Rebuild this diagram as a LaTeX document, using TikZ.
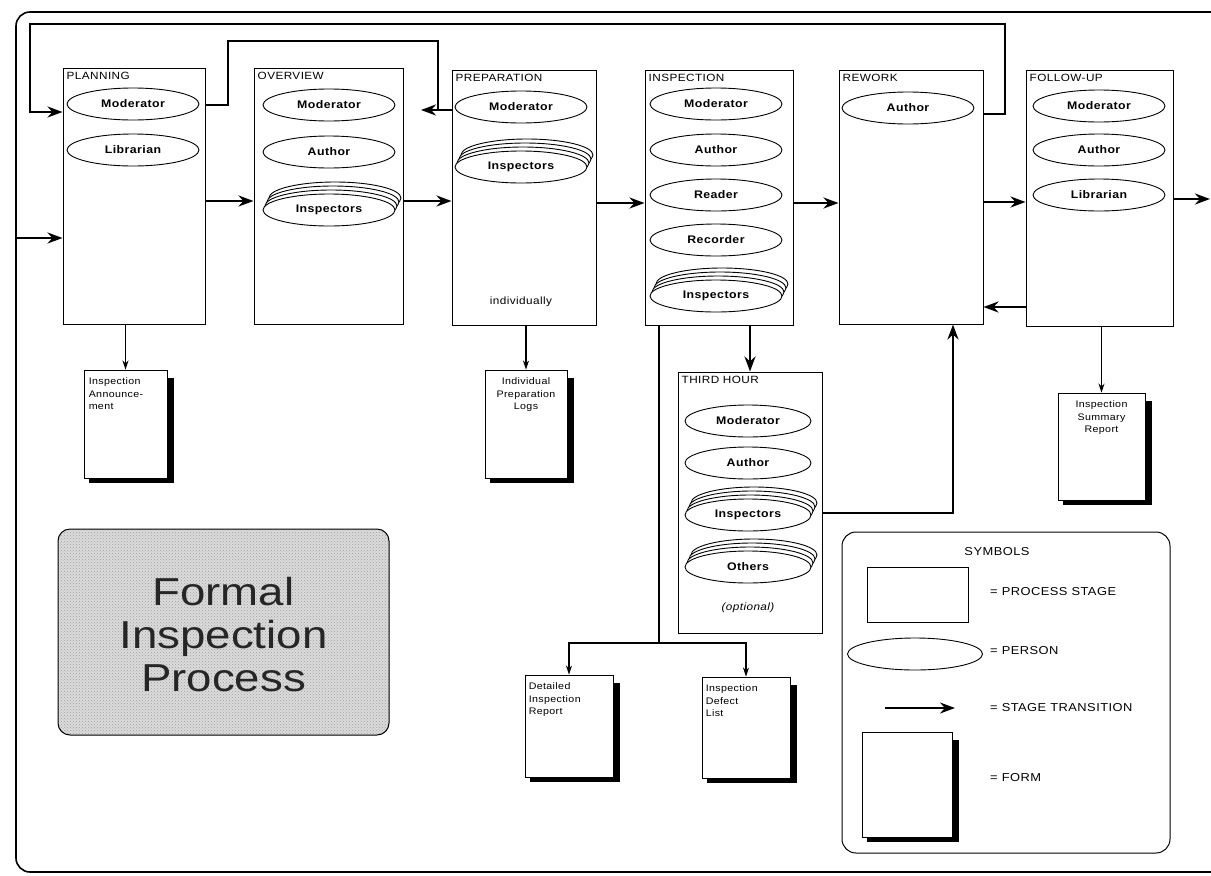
\documentclass[tikz,border=0pt]{standalone}
\usepackage{fontspec}
\setmainfont{Liberation Sans}
\newfontfamily\pfam[FakeStretch=1.12,LetterSpace=4]{Liberation Sans}
\newfontfamily\bigfam[FakeStretch=1.17]{Liberation Sans}
\usetikzlibrary{shapes.geometric,arrows.meta,fit,patterns}
\newcommand{\pf}{\pfam\bfseries\fontsize{11}{12}\selectfont}
\newcommand{\stf}{\pfam\fontsize{10.5}{12}\selectfont}
\newcommand{\ff}{\pfam\fontsize{9.5}{12.5}\selectfont}
\newcommand{\lf}{\pfam\fontsize{11.5}{13}\selectfont}
\newcommand{\bigf}{\bigfam\fontsize{39}{43}\selectfont}
\tikzset{
  stage/.style={draw, line width=1pt, inner sep=0pt},
  slabel/.style={anchor=north west, inner sep=1pt, font=\stf},
  person/.style={draw, ellipse, line width=0.9pt, minimum width=132pt, minimum height=32pt, inner sep=0pt, fill=white, font=\pf},
  trans/.style={line width=2.6pt, -{Stealth[length=15pt,width=11pt]}},
  loopline/.style={line width=2.6pt},
  thinline/.style={line width=1.3pt},
  darr/.style={line width=1.3pt, -{Stealth[length=9pt,width=6pt]}},
  formbox/.style={draw, line width=0.9pt, fill=white, inner sep=0pt},
  formtext/.style={inner sep=0pt, font=\ff, align=left},
  legtext/.style={anchor=west, inner sep=0pt, font=\lf},
}
% crowd of persons: [style] name x y text
\newcommand{\crowd}[5][]{%
  \node[person,#1] at (#3+6,#4-12) {};
  \node[person,#1] at (#3+4,#4-8) {};
  \node[person,#1] at (#3+2,#4-4) {};
  \node[person,#1] (#2) at (#3,#4) {#5};}
% form: name x0 y0 x1 y1
\newcommand{\formsheet}[5]{%
  \fill (#2+5,#3+8) rectangle (#4+7,#5+5);
  \node[formbox, fit={(#2,#3)(#4,#5)}] (#1) {};}
\begin{document}
\begin{tikzpicture}[x=1pt,y=-1pt]
\useasboundingbox (0,0) rectangle (1211,876);
\clip (0,0) rectangle (1211,876);

% outer frame
\draw[line width=1.6pt, rounded corners=14pt] (1240,12) -- (16,12) -- (16,872) -- (1240,872);

% stage boxes
\node[stage, fit={(63,68)(205,324)}] (plan) {};
\node[stage, fit={(254,68)(403,324)}] (over) {};
\node[stage, fit={(452,70)(596,325)}] (prep) {};
\node[stage, fit={(645,70)(793,325)}] (insp) {};
\node[stage, fit={(839,70)(983,324)}] (rework) {};
\node[stage, fit={(1026,70)(1173,326)}] (follow) {};
\node[stage, fit={(678,372)(822,633)}] (third) {};

\node[slabel] at ([shift={(3,3)}]plan.north west) {PLANNING};
\node[slabel] at ([shift={(3,3)}]over.north west) {OVERVIEW};
\node[slabel] at ([shift={(3,3)}]prep.north west) {PREPARATION};
\node[slabel] at ([shift={(3,3)}]insp.north west) {INSPECTION};
\node[slabel] at ([shift={(3,3)}]rework.north west) {REWORK};
\node[slabel] at ([shift={(3,3)}]follow.north west) {FOLLOW-UP};
\node[slabel] at ([shift={(3,3)}]third.north west) {THIRD HOUR};

% persons
\node[person] (planmod) at (133,104) {Moderator};
\node[person] (planlib) at (133,150) {Librarian};

\node[person] (overmod) at (329,105) {Moderator};
\node[person] (overaut) at (329,152) {Author};
\crowd{overins}{329}{210}{Inspectors}

\node[person] (prepmod) at (521,107) {Moderator};
\crowd{prepins}{521}{167}{Inspectors}
\node[font=\stf] (indiv) at (521,302) {individually};

\node[person] (inspmod) at (716,104) {Moderator};
\node[person] (inspaut) at (716,150) {Author};
\node[person] (insprea) at (716,195) {Reader};
\node[person] (insprec) at (716,240) {Recorder};
\crowd{inspins}{716}{296}{Inspectors}

\node[person] (rewaut) at (908,108) {Author};

\node[person] (folmod) at (1099,106) {Moderator};
\node[person] (folaut) at (1099,150) {Author};
\node[person] (follib) at (1099,195) {Librarian};

\node[person, minimum width=126pt] (thmod) at (748,421) {Moderator};
\node[person, minimum width=126pt] (thaut) at (748,463) {Author};
\crowd[minimum width=126pt]{thins}{748}{515}{Inspectors}
\crowd[minimum width=126pt]{thoth}{748}{567}{Others}
\node[font=\stf\itshape] (optional) at (748,608) {(optional)};

% main transitions
\coordinate (entry) at (17,238);
\draw[trans] (entry) -- (plan.west |- entry);
\draw[trans] (plan.east |- 0,201) -- (over.west |- 0,201);
\draw[trans] (over.east |- 0,201) -- (prep.west |- 0,201);
\draw[trans] (prep.east |- 0,203) -- (insp.west |- 0,203);
\draw[trans] (insp.east |- 0,203) -- (rework.west |- 0,203);
\draw[trans] (rework.east |- 0,202) -- (follow.west |- 0,202);
\coordinate (exit) at (1210,199);
\draw[trans] (follow.east |- exit) -- (exit);
\draw[trans] (follow.west |- 0,307) -- (rework.east |- 0,307);

% feedback loops
\draw[trans] (rework.east |- 0,114) -- (1005,114) -- (1005,24) -- (30,24) -- (30,112) -- (plan.west |- 0,112);
\coordinate (tee) at (438,110);
\draw[loopline] (plan.east |- 0,105) -- (228,105) -- (228,41) -- (438,41) -- (tee);
\draw[trans] (prep.west |- tee) -- (421,110);

% inspection to third hour and back to rework
\draw[trans] (third.north |- insp.south) -- (third.north);
\draw[trans] (third.east |- 0,513) -| (rework.south -| 953,0);

% forms
\formsheet{f1}{84}{370}{167}{478}
\node[formtext, anchor=north west] at ([shift={(5,8)}]f1.north west) {Inspection\\Announce-\\ment};
\formsheet{f2}{485}{370}{567}{478}
\node[formtext, anchor=north, align=center] at ([shift={(0,8)}]f2.north) {Individual\\Preparation\\Logs};
\formsheet{f3}{1058}{393}{1145}{500}
\node[formtext, anchor=north, align=center] at ([shift={(0,8)}]f3.north) {Inspection\\Summary\\Report};
\formsheet{f4}{525}{675}{613}{777}
\node[formtext, anchor=north west] at ([shift={(4,8)}]f4.north west) {Detailed\\Inspection\\Report};
\formsheet{f5}{702}{677}{790}{778}
\node[formtext, anchor=north west] at ([shift={(4,8)}]f5.north west) {Inspection\\Defect\\List};

\draw[darr] (f1.north |- plan.south) -- (f1.north);
\draw[darr] (f2.north |- prep.south) -- (f2.north);
\draw[darr] (f3.north |- follow.south) -- (f3.north);
\coordinate (split) at (659,643);
\draw[thinline] (split |- insp.south) -- (split);
\draw[darr] (split) -| (f4.north);
\draw[darr] (split) -| (f5.north);

% title box
\fill[gray!28, rounded corners=12pt] (58,529) rectangle (389,735);
\fill[pattern=crosshatch dots, pattern color=gray!75, rounded corners=12pt] (58,529) rectangle (389,735);
\node[draw, line width=1pt, rounded corners=12pt, inner sep=0pt, fit={(58,529)(389,735)}] (title) {};
\node[font=\bigf, align=center, text=black!85] at ([yshift=-3]title.center) {Formal\\Inspection\\Process};

% legend
\node[draw, line width=1pt, rounded corners=14pt, inner sep=0pt, fit={(842,532)(1170,853)}] (legend) {};
\node[font=\lf] (symbols) at (997,552) {SYMBOLS};
\node[stage, fit={(867,567)(968,622)}] (legstage) {};
\node[legtext] at (990,592) {= PROCESS STAGE};
\node[person, minimum width=135pt] (legperson) at (915,654) {};
\node[legtext] at (990,651) {= PERSON};
\coordinate (la) at (885,708);
\coordinate (lb) at (955,708);
\draw[trans, line width=1.8pt] (la) -- (lb);
\node[legtext] at (990,708) {= STAGE TRANSITION};
\formsheet{legform}{862}{732}{952}{837}
\node[legtext] at (990,778) {= FORM};
\end{tikzpicture}
\end{document}
